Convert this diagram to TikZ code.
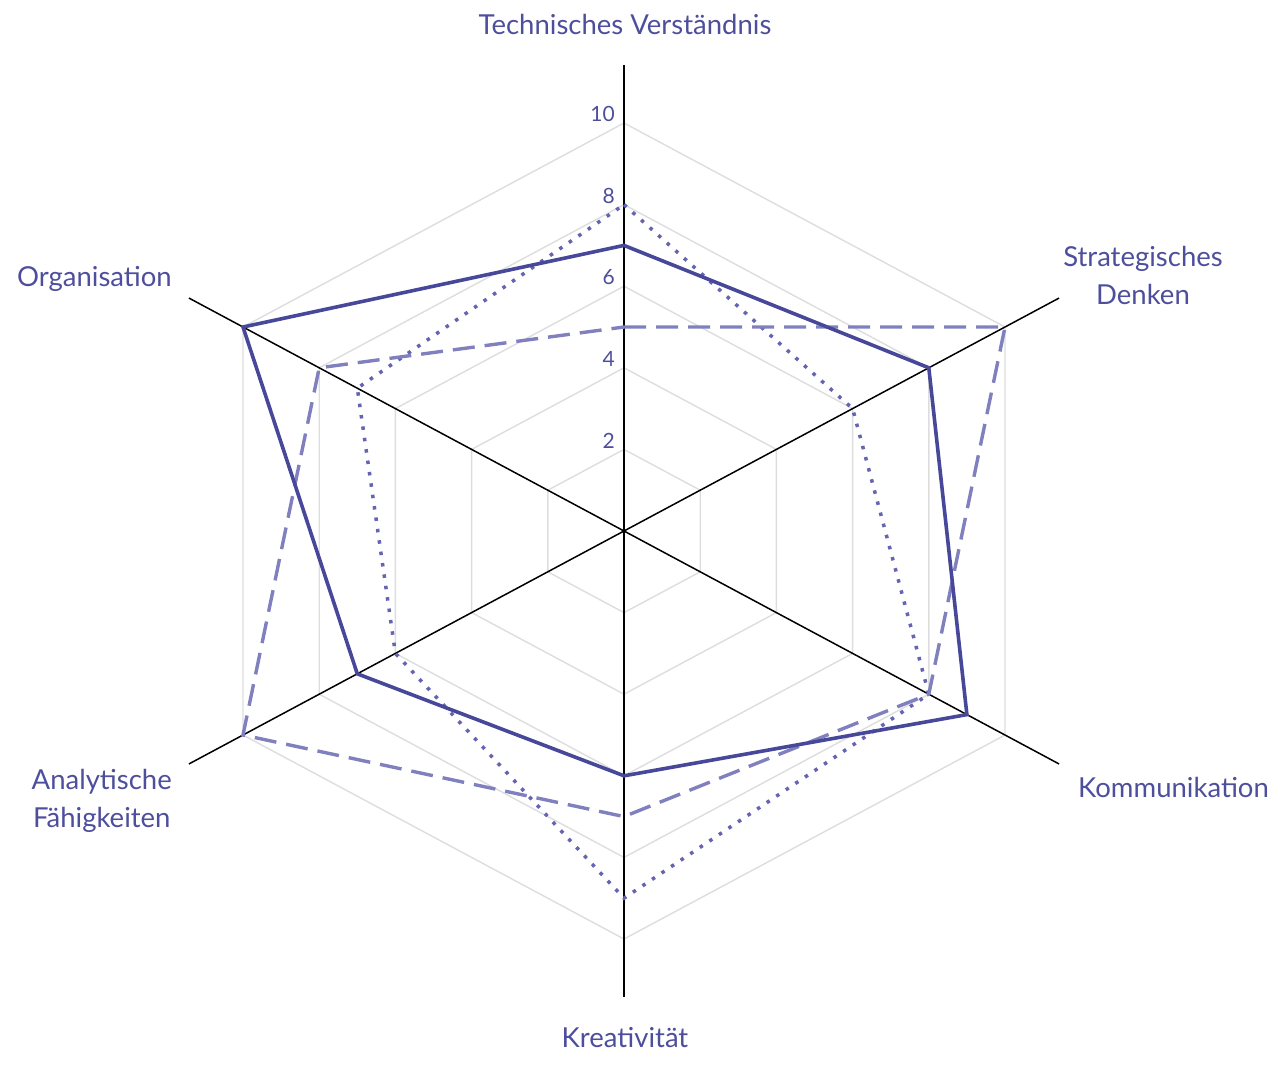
\documentclass[tikz,border=0pt]{standalone}
\usepackage{fontspec}
\setmainfont{Lato}
\usetikzlibrary{calc}
\definecolor{txt}{HTML}{4E4F9C}
\definecolor{ser1}{HTML}{48489A}
\definecolor{ser2}{HTML}{8080BF}
\definecolor{ser3}{HTML}{6464B2}
\definecolor{gridc}{HTML}{DDDDDD}
\tikzset{
  gridline/.style={draw=gridc, line width=1.4bp},
  axisline/.style={draw=black, line width=1.5bp},
  serA/.style={draw=ser1, line width=3.6bp, line join=miter},
  serB/.style={draw=ser2, line width=3.4bp, dash pattern=on 22bp off 10bp},
  serC/.style={draw=ser3, line width=3.5bp, dash pattern=on 3.5bp off 8bp},
  lab/.style={text=txt, font=\fontsize{27.5bp}{38bp}\selectfont, inner sep=0pt, align=center},
  tick/.style={text=txt, font=\fontsize{21bp}{24bp}\selectfont, inner sep=0pt, anchor=east},
}
\begin{document}
\begin{tikzpicture}[x=1bp,y=-1bp]
\useasboundingbox (0,0) rectangle (1287,1067);
\coordinate (O) at (624,531);
% axis tips at value 10
\coordinate (A0) at (624,123);
\coordinate (A1) at ($(O)+(381,-204)$);
\coordinate (A2) at ($(O)+(381,204)$);
\coordinate (A3) at (624,939);
\coordinate (A4) at ($(O)+(-381,204)$);
\coordinate (A5) at ($(O)+(-381,-204)$);
% grid
\foreach \v in {2,4,6,8,10}{
  \draw[gridline] ($(O)!\v/10!(A0)$) -- ($(O)!\v/10!(A1)$) -- ($(O)!\v/10!(A2)$) -- ($(O)!\v/10!(A3)$) -- ($(O)!\v/10!(A4)$) -- ($(O)!\v/10!(A5)$) -- cycle;
}
% axes
\foreach \k in {0,...,5}{
  \coordinate (E\k) at ($(O)!1.142!(A\k)$);
  \draw[axisline] (O) -- (E\k);
}
% tick labels
\foreach \v in {2,4,6,8,10}{
  \node[tick] (t\v) at ($(O)!\v/10!(A0)+(-9,-9)$) {\v};
}
% series
\draw[serC] ($(O)!0.8!(A0)$) -- ($(O)!0.6!(A1)$) -- ($(O)!0.8!(A2)$) -- ($(O)!0.9!(A3)$) -- ($(O)!0.6!(A4)$) -- ($(O)!0.7!(A5)$) -- cycle;
\draw[serB] ($(O)!0.5!(A0)$) -- ($(O)!1.0!(A1)$) -- ($(O)!0.8!(A2)$) -- ($(O)!0.7!(A3)$) -- ($(O)!1.0!(A4)$) -- ($(O)!0.8!(A5)$) -- cycle;
\draw[serA] ($(O)!0.7!(A0)$) -- ($(O)!0.8!(A1)$) -- ($(O)!0.9!(A2)$) -- ($(O)!0.6!(A3)$) -- ($(O)!0.7!(A4)$) -- ($(O)!1.0!(A5)$) -- cycle;
% labels
\node[lab] (l0) at (625,24) {Technisches Verständnis};
\node[lab] (l1) at (1143,275) {Strategisches\\Denken};
\node[lab, anchor=west] (l2) at (1078,787) {Kommunikation};
\node[lab] (l3) at (625,1038) {Kreativität};
\node[lab, anchor=east] (l4) at (172,801) {Analytische\\Fähigkeiten};
\node[lab, anchor=east] (l5) at (172,279) {Organisation};
\end{tikzpicture}
\end{document}
